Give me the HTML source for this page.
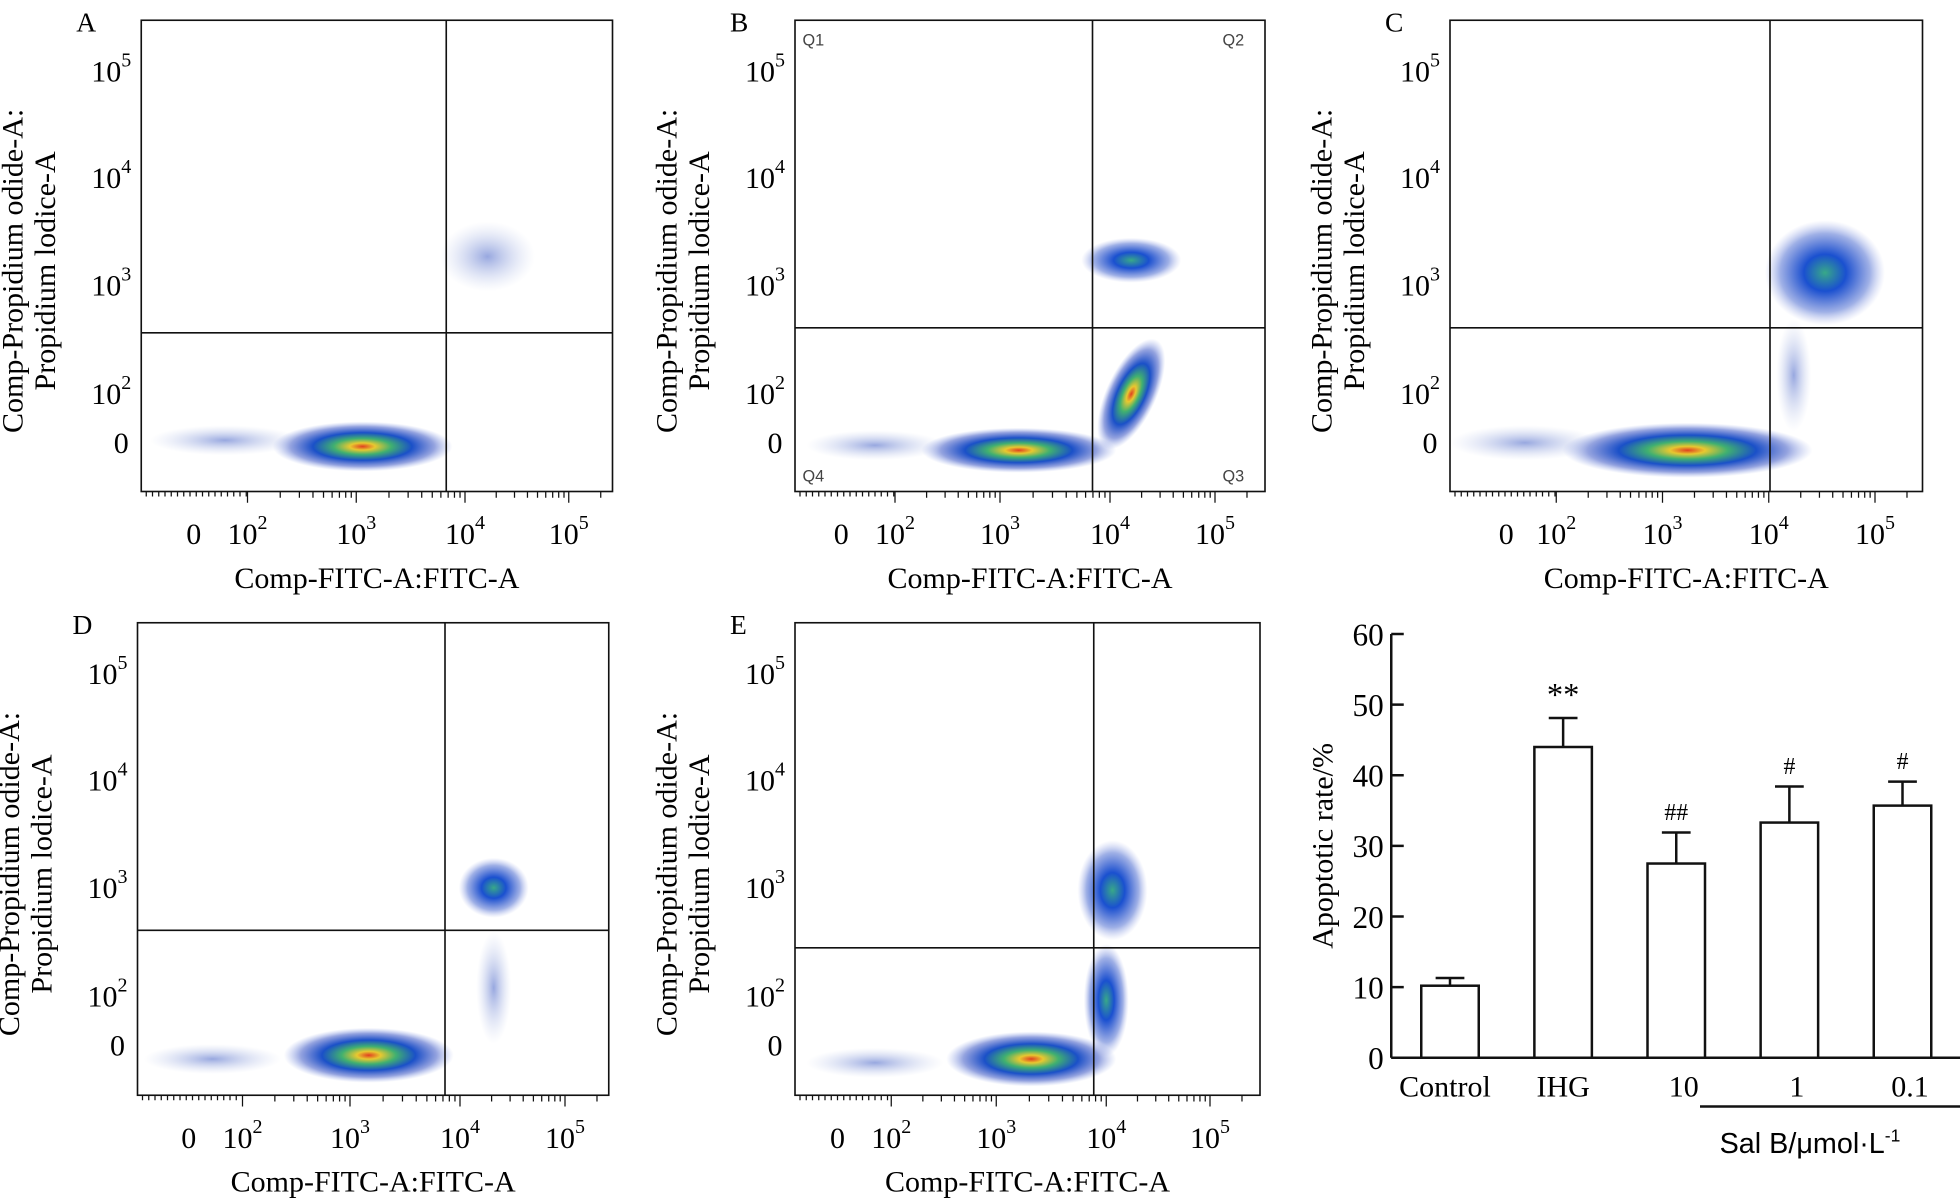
<!DOCTYPE html>
<html><head><meta charset="utf-8"><style>
html,body{margin:0;padding:0;background:#fff}
svg{display:block;font-family:"Liberation Serif",serif}
</style></head><body>
<svg id="fig" width="1960" height="1198" viewBox="0 0 1568 958" xmlns="http://www.w3.org/2000/svg">
<defs>
<radialGradient id="cl" cx="50%" cy="50%" r="50%">
<stop offset="0" stop-color="#e04020"/>
<stop offset="0.14" stop-color="#e8c830"/>
<stop offset="0.32" stop-color="#40b070"/>
<stop offset="0.55" stop-color="#1a50c8"/>
<stop offset="0.8" stop-color="#2a48c0" stop-opacity="0.5"/>
<stop offset="1" stop-color="#7088e0" stop-opacity="0"/>
</radialGradient>
<radialGradient id="cb" cx="50%" cy="50%" r="50%">
<stop offset="0" stop-color="#38a888"/>
<stop offset="0.35" stop-color="#1a50d0"/>
<stop offset="0.75" stop-color="#2a50c8" stop-opacity="0.45"/>
<stop offset="1" stop-color="#8090e0" stop-opacity="0"/>
</radialGradient>
<radialGradient id="cf" cx="50%" cy="50%" r="50%">
<stop offset="0" stop-color="#3050c0" stop-opacity="0.5"/>
<stop offset="1" stop-color="#a0b0e0" stop-opacity="0"/>
</radialGradient>
</defs>
<g id="plots"></g>
<g id="bars"></g>
</svg>
<script>
const NS="http://www.w3.org/2000/svg";
function mk(t,a,p,txt){const e=document.createElementNS(NS,t);for(const k in a)e.setAttribute(k,a[k]);if(txt!=null)e.textContent=txt;p.appendChild(e);return e;}
const plotsG=document.getElementById('plots');

const panelLabels=['A','B','C','D','E'];
const panelBoxes=[[113,16,490,393],[636,16,1012,393],[1160,16,1538,393],[110,498,487,876],[636,498,1008,876]];
const quadV=[357,874,1416,356,875];
const quadH=[266,262,262,744,758];
const xTickPos=[[155,198,285,372,455],[673,716,800,888,972],[1205,1245,1330,1415,1500],[151,194,280,368,452],[670,713,797,885,968]];
const yTickOff=[57,142,228,315,354];
const yExp=['5','4','3','2'];
const clusters=[
 [[290,357,72,20,0,'cl'],[390,205,38,28,0,'cf'],[180,352,60,12,0,'cf']],
 [[815,360,78,18,0,'cl'],[905,315,20,48,25,'cl'],[905,208,40,18,0,'cb'],[700,356,55,12,0,'cf']],
 [[1350,360,100,22,0,'cl'],[1460,218,48,42,0,'cb'],[1435,300,14,45,0,'cf'],[1220,354,60,14,0,'cf']],
 [[295,844,68,22,0,'cl'],[395,710,28,24,0,'cb'],[395,790,14,45,0,'cf'],[170,847,55,12,0,'cf']],
 [[825,847,68,22,0,'cl'],[890,712,28,40,0,'cb'],[885,800,18,45,0,'cb'],[700,850,55,12,0,'cf']]
];

panelBoxes.forEach((b,i)=>{
 const g=mk('g',{},plotsG);
 
 
 const [x0,y0,x1,y1]=b;
 const lb=mk('text',{x:x0-52,y:y0+9,'font-size':22},g,panelLabels[i]);
 
 
 clusters[i].forEach(c=>{
  const e=mk('ellipse',{cx:c[0],cy:c[1],rx:c[2],ry:c[3],fill:'url(#'+c[5]+')',transform:`rotate(${c[4]} ${c[0]} ${c[1]})`},g);
  
  
 });
 mk('rect',{x:x0,y:y0,width:x1-x0,height:y1-y0,fill:'none',stroke:'#111','stroke-width':1.3},g);
 mk('line',{x1:quadV[i],y1:y0,x2:quadV[i],y2:y1,stroke:'#111','stroke-width':1.3},g);
 mk('line',{x1:x0,y1:quadH[i],x2:x1,y2:quadH[i],stroke:'#111','stroke-width':1.3},g);
 if(i===1){
  [['Q1',x0+6,y0+20],['Q2',x1-34,y0+20],['Q3',x1-34,y1-8],['Q4',x0+6,y1-8]].forEach(q=>{
   const t=mk('text',{x:q[1],y:q[2],'font-size':13,fill:'#444','font-family':'Liberation Sans, sans-serif'},g,q[0]);
   
   
  });
 }
 const dy=y0-16;
 yTickOff.forEach((yy,k)=>{
  const y=yy+dy;
  const t=mk('text',{x:x0-8,y:y+8,'font-size':24,'text-anchor':'end'},g);
  if(k<4){t.textContent='10';mk('tspan',{dy:-12,'font-size':16},t,yExp[k]);}else{t.textContent='0';t.setAttribute('x',x0-10);}
  
  
 });
 const xs=xTickPos[i];
 for(let d=1;d<5;d++){
  for(let m=1;m<10;m++){
   const x=xs[d]+(xs[Math.min(d+1,4)]-xs[d]||85)*Math.log10(m);
   if(x<x1) mk('line',{x1:x,y1:y1,x2:x,y2:y1+(m===1?9:5),stroke:'#111','stroke-width':1},g);
  }
 }
 for(let x=x0+4;x<xs[1];x+=5) mk('line',{x1:x,y1:y1,x2:x,y2:y1+4,stroke:'#111','stroke-width':1},g);
 const ty=y1+42;
 xs.forEach((x,k)=>{
  const t=mk('text',{x:x,y:ty,'font-size':24,'text-anchor':'middle'},g);
  if(k>0){t.textContent='10';mk('tspan',{dy:-12,'font-size':16},t,String(k+1));}else t.textContent='0';
  
  
 });
 const xt=mk('text',{x:(x0+x1)/2,y:y1+77,'font-size':24,'text-anchor':'middle'},g,'Comp-FITC-A:FITC-A');
 
 
 const cy=(y0+y1)/2+12;
 const yt=mk('text',{transform:`translate(${x0-95},${cy}) rotate(-90)`,'font-size':24,'text-anchor':'middle'},g);
 mk('tspan',{x:0,y:0},yt,'Comp-Propidium odide-A:');
 mk('tspan',{x:0,y:26},yt,'Propidium lodice-A');
 
 
});

const categories=['Control','IHG','10','1','0.1'];
const values=[10.2,44,27.5,33.3,35.7];
const errors=[1.1,4.1,4.4,5.1,3.4];
const marks=['','**','##','#','#'];
const yTicks=[0,10,20,30,40,50,60];

const bg=document.getElementById('bars');
const ax0=1113, yBase=846, yTop=507, yMax=60;
const yS=v=>yBase-(yBase-yTop)*v/yMax;
const xS=i=>1160+i*90.5;
const bw=46;
mk('line',{x1:ax0,y1:yTop,x2:ax0,y2:yBase,stroke:'#111','stroke-width':2},bg);
mk('line',{x1:ax0,y1:yBase,x2:1568,y2:yBase,stroke:'#111','stroke-width':2},bg);
yTicks.forEach(v=>{
 mk('line',{x1:ax0,y1:yS(v),x2:ax0+10,y2:yS(v),stroke:'#111','stroke-width':2},bg);
 const t=mk('text',{x:ax0-6,y:yS(v)+9,'font-size':25,'text-anchor':'end'},bg,String(v));
 
 
});
values.forEach((v,i)=>{
 const cx=xS(i);
 const r=mk('rect',{x:cx-bw/2,y:yS(v),width:bw,height:yBase-yS(v),fill:'#fff',stroke:'#111','stroke-width':2},bg);
 
 
 mk('line',{x1:cx,y1:yS(v),x2:cx,y2:yS(v+errors[i]),stroke:'#111','stroke-width':2},bg);
 mk('line',{x1:cx-bw/4,y1:yS(v+errors[i]),x2:cx+bw/4,y2:yS(v+errors[i]),stroke:'#111','stroke-width':2},bg);
 if(marks[i]){
  const m=mk('text',{x:cx,y:yS(v+errors[i])-10,'font-size':i===1?26:19,'text-anchor':'middle'},bg,marks[i]);
  
  
 }
 const t=mk('text',{x:cx+(i===0?-4:i>=2?6:0),y:877,'font-size':24,'text-anchor':'middle'},bg,categories[i]);
 
 
});
mk('line',{x1:1360,y1:885,x2:1568,y2:885,stroke:'#111','stroke-width':2},bg);
const st=mk('text',{x:1448,y:922,'font-size':23,'text-anchor':'middle','font-family':'Liberation Sans, sans-serif'},bg,'Sal B/μmol·L');
mk('tspan',{dy:-9,'font-size':14},st,'-1');


const yt=mk('text',{transform:`translate(1066,${(yTop+yBase)/2}) rotate(-90)`,'font-size':24,'text-anchor':'middle'},bg,'Apoptotic rate/%');


</script>
</body></html>
